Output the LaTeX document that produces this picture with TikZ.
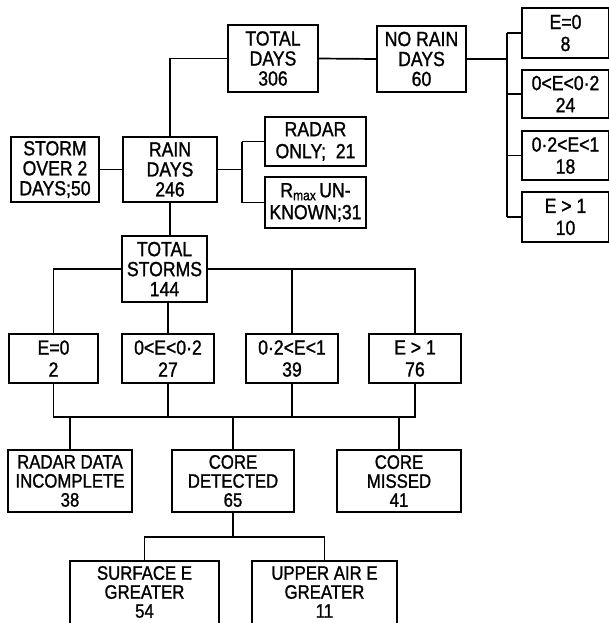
\documentclass[tikz,border=0pt]{standalone}
\usepackage{fontspec}
\setmainfont[FakeStretch=0.86,FakeBold=1.2]{Liberation Sans}
\begin{document}
\begin{tikzpicture}[x=1pt,y=-1pt,
  box/.style={draw,line width=1.9pt,inner sep=0pt,align=center,font=\fontsize{20.5}{20}\selectfont},
  two/.style={font=\fontsize{20.5}{22}\selectfont},
  tight/.style={font=\fontsize{19.5}{19}\selectfont},
  ln/.style={line width=1.7pt}]
\useasboundingbox (0,0) rectangle (609,623);
\clip (0,0) rectangle (609,623);
% top row
\node[box,minimum width=90pt,minimum height=67pt] (totdays) at (273,58.5) {TOTAL\\DAYS\\306};
\node[box,minimum width=89pt,minimum height=66pt] (norain) at (421.5,59) {NO RAIN\\DAYS\\60};
\node[box,two,minimum width=87pt,minimum height=50pt] (ne0) at (565.5,33) {E=0\\8};
\node[box,two,minimum width=87pt,minimum height=48pt] (ne02) at (565.5,94) {0<E<0·2\\24};
\node[box,two,minimum width=87pt,minimum height=49pt] (ne1) at (565.5,155.5) {0·2<E<1\\18};
\node[box,two,minimum width=87pt,minimum height=50pt] (ngt) at (565.5,217) {E > 1\\10};
% rain row
\node[box,minimum width=88pt,minimum height=65pt] (storm) at (55,169.5) {STORM\\OVER 2\\DAYS;50};
\node[box,minimum width=94pt,minimum height=65pt] (rain) at (170,169.5) {RAIN\\DAYS\\246};
\node[box,two,minimum width=101pt,minimum height=49pt] (radar) at (315.5,141.5) {RADAR\\ONLY;\ \ 21};
\node[box,two,minimum width=101pt,minimum height=51pt] (rmax) at (315.5,202.5) {R\raisebox{-3pt}{\fontsize{14}{14}\selectfont max}\,UN-\\KNOWN;31};
% storms
\node[box,minimum width=85pt,minimum height=66pt] (tstorms) at (164.5,269) {TOTAL\\STORMS\\144};
\node[box,two,minimum width=89pt,minimum height=49pt] (e0) at (53.5,358.5) {E=0\\2};
\node[box,two,minimum width=92pt,minimum height=49pt] (e02) at (168,358.5) {0<E<0·2\\27};
\node[box,two,minimum width=92pt,minimum height=49pt] (e1) at (292,358.5) {0·2<E<1\\39};
\node[box,two,minimum width=92pt,minimum height=49pt] (egt) at (415,358.5) {E > 1\\76};
% bottom
\node[box,tight,minimum width=124pt,minimum height=62pt] (radinc) at (70,481) {RADAR DATA\\INCOMPLETE\\38};
\node[box,tight,minimum width=122pt,minimum height=62pt] (cdet) at (233,481) {CORE\\DETECTED\\65};
\node[box,tight,minimum width=124pt,minimum height=62pt] (cmiss) at (399,481) {CORE\\MISSED\\41};
\node[box,minimum width=149pt,minimum height=69pt] (surf) at (144.5,595.5) {};
\node[box,minimum width=145pt,minimum height=69pt] (upper) at (324.5,595.5) {};
\node[align=center,font=\fontsize{19.5}{19}\selectfont,inner sep=0pt] (surft) at (144.5,592) {SURFACE E\\GREATER\\54};
\node[align=center,font=\fontsize{19.5}{19}\selectfont,inner sep=0pt] (uppert) at (324.5,592) {UPPER AIR E\\GREATER\\11};
% connectors
\coordinate (br) at (507,0);
\coordinate (rb) at (242,0);
\coordinate (j) at (0,417);
\coordinate (k) at (0,537);
\draw[ln] (rain.north) |- (totdays.west);
\draw[ln] (totdays.east) -- (norain.west);
\draw[ln] (norain.east) -- (norain.east -| br);
\draw[ln] (ne0.west -| br) -- (ngt.west -| br);
\draw[ln] (ne0.west) -- (ne0.west -| br);
\draw[ln] (ne02.west) -- (ne02.west -| br);
\draw[ln] (ne1.west) -- (ne1.west -| br);
\draw[ln] (ngt.west) -- (ngt.west -| br);
\draw[ln] (storm.east) -- (rain.west);
\draw[ln] (rain.east) -- (rain.east -| rb);
\draw[ln] (radar.west -| rb) -- (rmax.west -| rb);
\draw[ln] (radar.west) -- (radar.west -| rb);
\draw[ln] (rmax.west) -- (rmax.west -| rb);
\draw[ln] (rain.south) -- (rain.south |- tstorms.north);
\draw[ln] (tstorms.west) -| (e0.north);
\draw[ln] (tstorms.east) -| (egt.north);
\draw[ln] (e02.north) -- (e02.north |- tstorms.south);
\draw[ln] (e1.north) -- (e1.north |- tstorms.east);
\draw[ln] (e0.south) |- (egt.south |- j) -- (egt.south);
\draw[ln] (e02.south) -- (e02.south |- j);
\draw[ln] (e1.south) -- (e1.south |- j);
\draw[ln] (radinc.north) -- (radinc.north |- j);
\draw[ln] (cdet.north) -- (cdet.north |- j);
\draw[ln] (cmiss.north) -- (cmiss.north |- j);
\draw[ln] (cdet.south) -- (cdet.south |- k);
\draw[ln] (surf.north) |- (upper.north |- k) -- (upper.north);
\end{tikzpicture}
\end{document}
